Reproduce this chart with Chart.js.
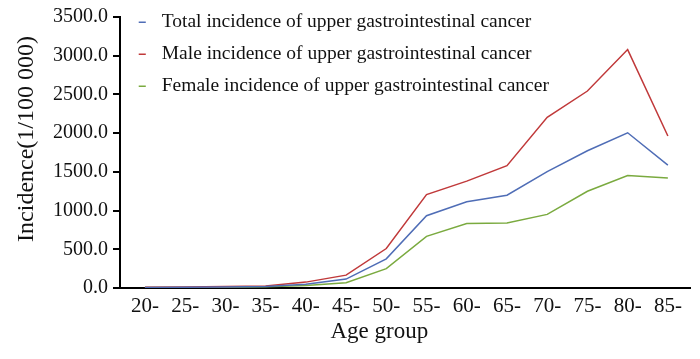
<!DOCTYPE html>
<html>
<head>
<meta charset="utf-8">
<script src="https://cdn.jsdelivr.net/npm/chart.js@4"></script>
<style>
  html, body { margin: 0; padding: 0; background: #fff; }
  #wrap { width: 700px; height: 359px; }
</style>
</head>
<body>
<div id="wrap"><canvas id="chart"></canvas></div>
<script>
const ageGroups = ['20-', '25-', '30-', '35-', '40-', '45-', '50-', '55-', '60-', '65-', '70-', '75-', '80-', '85-'];
const totalIncidence = [8, 10, 14, 20, 50, 115, 377, 934, 1113, 1198, 1504, 1772, 2005, 1588];
const maleIncidence = [10, 12, 18, 25, 76, 166, 510, 1206, 1380, 1580, 2205, 2544, 3079, 1963];
const femaleIncidence = [5, 8, 10, 15, 32, 68, 250, 667, 832, 841, 951, 1249, 1453, 1422];
const seriesNames = [
  'Total incidence of upper gastrointestinal cancer',
  'Male incidence of upper gastrointestinal cancer',
  'Female incidence of upper gastrointestinal cancer'
];
const xTitle = 'Age group';
const yTitle = 'Incidence(1/100 000)';
const colors = ['#4f6db6', '#c0393a', '#7aaa3f'];

const serif = 'Liberation Serif, Times New Roman, serif';

function line(label, data, color) {
  return {
    label,
    data: data.map((v, i) => ({ x: i, y: v })),
    borderColor: color,
    backgroundColor: color,
    borderWidth: 1.5,
    pointRadius: 0,
    pointStyle: 'line',
    tension: 0,
    fill: false
  };
}

// axis titles sit a little off-centre in the original, so draw them by hand
const axisTitles = {
  id: 'axisTitles',
  afterDraw(chart) {
    const ctx = chart.ctx;
    const { left, right, top, bottom } = chart.chartArea;
    ctx.save();
    ctx.fillStyle = '#111';
    ctx.font = '23px ' + serif;
    ctx.textAlign = 'center';
    ctx.textBaseline = 'alphabetic';
    ctx.fillText(xTitle, left + (right - left) * 0.455, bottom + 50);
    ctx.font = '24px ' + serif;
    ctx.translate(33, top + (bottom - top) * 0.45);
    ctx.rotate(-Math.PI / 2);
    ctx.fillText(yTitle, 0, 0);
    ctx.restore();
  }
};

new Chart(document.getElementById('chart'), {
  type: 'line',
  data: {
    datasets: [
      line(seriesNames[0], totalIncidence, colors[0]),
      line(seriesNames[1], maleIncidence, colors[1]),
      line(seriesNames[2], femaleIncidence, colors[2])
    ]
  },
  plugins: [axisTitles],
  options: {
    responsive: true,
    maintainAspectRatio: false,
    animation: false,
    layout: { padding: { left: 8, right: 10, top: 15, bottom: 0 } },
    plugins: {
      tooltip: { enabled: false },
      legend: {
        position: 'chartArea',
        align: 'start',
        labels: {
          color: '#111',
          font: { family: serif, size: 19.5 },
          usePointStyle: true,
          boxWidth: 19.5,
          boxHeight: 5,
          padding: 12.5
        }
      }
    },
    scales: {
      x: {
        type: 'linear',
        min: -0.62,
        max: 13.55,
        afterFit: s => { s.height = 71; },
        afterBuildTicks: s => { s.ticks = ageGroups.map((_, i) => ({ value: i })); },
        grid: { display: false },
        border: { display: true, color: '#000', width: 2 },
        ticks: {
          color: '#111',
          font: { family: serif, size: 21 },
          padding: -2,
          maxRotation: 0,
          autoSkip: false,
          callback: v => ageGroups[v]
        }
      },
      y: {
        min: 0,
        max: 3500,
        afterFit: s => { s.width = 112; },
        grid: { drawOnChartArea: false, color: '#000', lineWidth: 2, tickLength: 7 },
        border: { display: true, color: '#000', width: 2 },
        ticks: {
          stepSize: 500,
          color: '#111',
          font: { family: serif, size: 20 },
          padding: 5,
          callback: v => v.toFixed(1)
        }
      }
    }
  }
});
</script>
</body>
</html>
